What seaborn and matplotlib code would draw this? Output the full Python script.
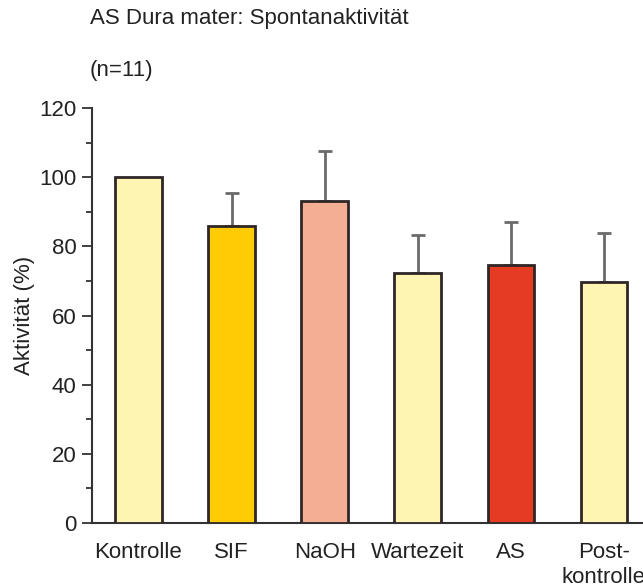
import matplotlib
matplotlib.use("Agg")
import matplotlib.pyplot as plt
from matplotlib.ticker import MultipleLocator
import numpy as np
import pandas as pd
import seaborn as sns

categories = ["Kontrolle", "SIF", "NaOH", "Wartezeit", "AS", "Post-\nkontrolle"]
activity = [100.0, 86.0, 93.0, 72.2, 74.5, 69.8]
sem_upper = [0.0, 9.4, 14.7, 11.0, 12.4, 14.2]
bar_colors = ["#FFF5B3", "#FFCB05", "#F4AE94", "#FFF5B3", "#E53B23", "#FFF5B3"]

sns.set_theme(style="white")
plt.rcParams["font.family"] = ["Liberation Sans", "DejaVu Sans"]

FS = 16

df = pd.DataFrame({"cond": categories, "act": activity})

fig = plt.figure(figsize=(6.43, 5.87), dpi=100)
ax = fig.add_axes([0.143, 0.109, 0.857, 0.707])

sns.barplot(data=df, x="cond", y="act", hue="cond", palette=bar_colors,
            saturation=1, legend=False, width=0.5, edgecolor="#2f2626",
            linewidth=2, errorbar=None, ax=ax, zorder=3)

xpos = np.arange(len(categories))
err = np.array(sem_upper)
mask = err > 0
ax.errorbar(xpos[mask], np.array(activity)[mask],
            yerr=[np.zeros(mask.sum()), err[mask]],
            fmt="none", ecolor="#6a6a6a", elinewidth=2, capsize=5,
            capthick=2, zorder=2)

ax.set_ylim(0, 120)
ax.set_xlim(-0.5, 5.42)
ax.yaxis.set_major_locator(MultipleLocator(20))
ax.yaxis.set_minor_locator(MultipleLocator(10))
ax.tick_params(axis="y", which="major", direction="out", length=7, width=1.3,
               color="#333333", left=True, labelsize=FS, pad=4,
               labelcolor="#222222")
ax.tick_params(axis="y", which="minor", direction="out", length=4, width=1.3,
               color="#333333", left=True)
ax.tick_params(axis="x", length=0, labelsize=FS, pad=14, labelcolor="#222222")
for lbl in ax.get_xticklabels():
    lbl.set_linespacing(1.2)
    lbl.set_verticalalignment("top")

for side in ("top", "right"):
    ax.spines[side].set_visible(False)
for side in ("left", "bottom"):
    ax.spines[side].set_color("#333333")
    ax.spines[side].set_linewidth(1.5)

ax.set_xlabel("")
ax.set_ylabel("Aktivität (%)", fontsize=FS, labelpad=3, color="#222222")

fig.text(0.140, 0.969, "AS Dura mater: Spontanaktivität", fontsize=FS,
         ha="left", va="center", color="#222222")
fig.text(0.140, 0.880, "(n=11)", fontsize=FS, ha="left", va="center",
         color="#222222")

fig.savefig("out.png", dpi=100)
